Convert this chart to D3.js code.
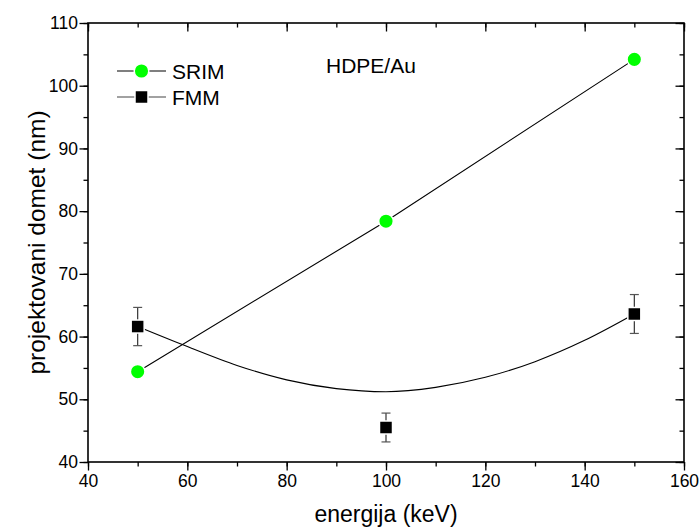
<!DOCTYPE html>
<html><head><meta charset="utf-8">
<script src="https://cdn.jsdelivr.net/npm/d3@7"></script>
<style>body{margin:0;background:#fff}svg{display:block;font-family:"Liberation Sans",Arial,sans-serif}</style>
</head><body><svg id="c" width="699" height="529"></svg>
<script>
const energies = [50, 100, 150];
const srim = [54.4, 78.4, 104.2];
const fmm = [61.6, 45.5, 63.6];
const fmmErr = [3.05, 2.3, 3.1];
const fitX = [50, 60, 70, 80, 90, 100, 110, 120, 130, 140, 150];
const fitY = [61.6, 58.4, 55.4, 53.1, 51.7, 51.2, 51.9, 53.5, 56.0, 59.4, 63.6];
const xTicks = [40, 60, 80, 100, 120, 140, 160];
const yTicks = [40, 50, 60, 70, 80, 90, 100, 110];
const legendLabels = ["SRIM", "FMM"];

const svg = d3.select("#c");
const L = 88, R = 684, T = 23, B = 462;
const x = d3.scaleLinear().domain([40, 160]).range([L, R]);
const y = d3.scaleLinear().domain([40, 110]).range([B, T]);
const xMinor = d3.range(40, 161, 10);
const yMinor = d3.range(40, 111, 5);

const gx = svg.append("g").attr("transform", `translate(0,${B})`);
gx.call(d3.axisBottom(x).tickValues(xMinor).tickSize(4.5).tickFormat(""));
const gx2 = svg.append("g").attr("transform", `translate(0,${B})`);
gx2.call(d3.axisBottom(x).tickValues(xTicks).tickSize(8.5).tickPadding(4).tickFormat(d3.format("d")));
const gy = svg.append("g").attr("transform", `translate(${L},0)`);
gy.call(d3.axisLeft(y).tickValues(yMinor).tickSize(4.5).tickFormat(""));
const gy2 = svg.append("g").attr("transform", `translate(${L},0)`);
gy2.call(d3.axisLeft(y).tickValues(yTicks).tickSize(8.5).tickPadding(1.5).tickFormat(d3.format("d")));
const gt = svg.append("g").attr("transform", `translate(0,${T})`);
gt.call(d3.axisBottom(x).tickValues(xMinor).tickSize(4.5).tickFormat(""));
gt.call(g => g.append("g").call(d3.axisBottom(x).tickValues(xTicks).tickSize(8.5).tickFormat("")));
const gr = svg.append("g").attr("transform", `translate(${R},0)`);
gr.call(d3.axisLeft(y).tickValues(yMinor).tickSize(4.5).tickFormat(""));
gr.call(g => g.append("g").call(d3.axisLeft(y).tickValues(yTicks).tickSize(8.5).tickFormat("")));
svg.selectAll(".domain").remove();
svg.selectAll(".tick line").attr("stroke", "#000").attr("stroke-width", 1.3);
svg.selectAll(".tick text").attr("fill", "#000").attr("font-size", 17.5).attr("font-family", '"Liberation Sans",Arial,sans-serif');
svg.append("rect").attr("x", L).attr("y", T).attr("width", R - L).attr("height", B - T)
  .attr("fill", "none").attr("stroke", "#000").attr("stroke-width", 1.6);

// axis titles
svg.append("text").attr("x", (L + R) / 2).attr("y", 522).attr("text-anchor", "middle")
  .attr("font-size", 23).text("energija (keV)");
svg.append("text").attr("transform", `translate(45,${(T + B) / 2}) rotate(-90)`)
  .attr("text-anchor", "middle").attr("font-size", 24.5).text("projektovani domet (nm)");
svg.append("text").attr("x", 326).attr("y", 73).attr("font-size", 21).text("HDPE/Au");

// fit curve for FMM
const fitLine = d3.line().x((d, i) => x(fitX[i])).y(d => y(d)).curve(d3.curveMonotoneX);
svg.append("path").attr("d", fitLine(fitY)).attr("fill", "none").attr("stroke", "#000").attr("stroke-width", 1.1);

// SRIM line
const srimLine = d3.line().x((d, i) => x(energies[i])).y(d => y(d));
svg.append("path").attr("d", srimLine(srim)).attr("fill", "none").attr("stroke", "#000").attr("stroke-width", 1.1);

// error bars
energies.forEach((e, i) => {
  const cx = x(e);
  const g = svg.append("g").attr("stroke", "#333").attr("stroke-width", 1.2);
  g.append("line").attr("x1", cx).attr("x2", cx).attr("y1", y(fmm[i] + fmmErr[i])).attr("y2", y(fmm[i] - fmmErr[i]));
  [fmm[i] + fmmErr[i], fmm[i] - fmmErr[i]].forEach(v => {
    g.append("line").attr("x1", cx - 4.5).attr("x2", cx + 4.5).attr("y1", y(v)).attr("y2", y(v)).attr("stroke", "#555");
  });
});

// markers
svg.selectAll(".sq").data(fmm).enter().append("rect")
  .attr("x", (d, i) => x(energies[i]) - 6.5).attr("y", d => y(d) - 6.5)
  .attr("width", 13).attr("height", 13).attr("fill", "#000")
  .attr("stroke", "#fff").attr("stroke-width", 1.5);
svg.selectAll(".ci").data(srim).enter().append("circle")
  .attr("cx", (d, i) => x(energies[i])).attr("cy", d => y(d)).attr("r", 7.3)
  .attr("fill", "#00ff00").attr("stroke", "#fff").attr("stroke-width", 1.5);

// legend
const lg = svg.append("g");
const ly = [71, 97];
legendLabels.forEach((lab, i) => {
  lg.append("line").attr("x1", 117).attr("x2", 166).attr("y1", ly[i]).attr("y2", ly[i])
    .attr("stroke", i === 0 ? "#000" : "#444").attr("stroke-width", 1.1);
  if (i === 0) {
    lg.append("circle").attr("cx", 141.5).attr("cy", ly[i]).attr("r", 7.3).attr("fill", "#00ff00")
      .attr("stroke", "#fff").attr("stroke-width", 1.5);
  } else {
    lg.append("rect").attr("x", 135).attr("y", ly[i] - 6.5).attr("width", 13).attr("height", 13)
      .attr("fill", "#000").attr("stroke", "#fff").attr("stroke-width", 1.5);
  }
  lg.append("text").attr("x", 172).attr("y", ly[i] + 7.5).attr("font-size", 21).text(lab);
});
</script></body></html>
